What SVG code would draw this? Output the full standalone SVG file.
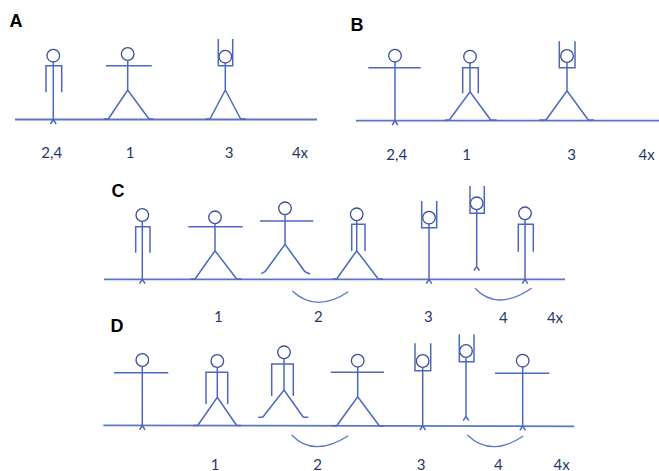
<svg xmlns="http://www.w3.org/2000/svg" width="659" height="471" viewBox="0 0 659 471">
  <style>
    .ln { fill: none; stroke: #4b68c0; stroke-width: 1.5; stroke-linecap: butt; stroke-linejoin: miter; }
    .gd { fill: none; stroke: #5a76c8; stroke-width: 1.8; }
    .hd { fill: #ffffff; stroke: #3b4f96; stroke-width: 1.3; }
    .arc { fill: none; stroke: #5a76c8; stroke-width: 1.3; }
    .lbl { font-family: Lato, "Liberation Sans", sans-serif; font-size: 15px; fill: #27366a; text-anchor: middle; }
    .ttl { font-family: "Liberation Sans", Arial, sans-serif; font-size: 18px; font-weight: bold; fill: #000000; }
  </style>
  <rect width="659" height="471" fill="#ffffff"/>

  <!-- Panel A -->
  <g id="panel-a">
    <text class="ttl" x="9.5" y="26.7">A</text>
    <path id="ground-a" class="gd" d="M15,119.5 H317"/>
    <g id="a-fig1">
      <circle class="hd" cx="53.3" cy="55.7" r="6.3"/>
      <path class="ln" d="M53.3,62 V119.5 M46,92.3 V65.7 H61.7 V92.3 M50.5,124 L53.3,119.5 L56.1,124"/>
    </g>
    <g id="a-fig2">
      <circle class="hd" cx="127.7" cy="54" r="6.3"/>
      <path class="ln" d="M106,65.7 H151.7 M127.7,60.3 V90 M108.3,119 L127.7,90 L149,119 M104,119 H108.3 M149,119 H153.3"/>
    </g>
    <g id="a-fig3">
      <circle class="hd" cx="225.3" cy="56.7" r="6.3"/>
      <path class="ln" d="M218.3,39 V65.7 H232.7 V39 M225.3,63 V90 M210,119 L225.3,90 L240.7,119 M205.7,119 H210 M240.7,119 H245.7"/>
    </g>
    <text class="lbl" x="51.7" y="158">2,4</text>
    <text class="lbl" x="130" y="158">1</text>
    <text class="lbl" x="229" y="158">3</text>
    <text class="lbl" x="300" y="158">4x</text>
  </g>

  <!-- Panel B -->
  <g id="panel-b">
    <text class="ttl" x="350.5" y="30.7">B</text>
    <path id="ground-b" class="gd" d="M356,120.7 H659"/>
    <g id="b-fig1">
      <circle class="hd" cx="395" cy="55.7" r="6.3"/>
      <path class="ln" d="M368.3,67.7 H420.7 M395,62 V120.7 M392.2,125 L395,120.7 L397.8,125"/>
    </g>
    <g id="b-fig2">
      <circle class="hd" cx="470" cy="56.7" r="6.3"/>
      <path class="ln" d="M462.7,93.3 V67.7 H478.3 V93.3 M470,63 V91.7 M449.3,120 L470,91.7 L490.7,120 M445,120 H449.3 M490.7,120 H496.7"/>
    </g>
    <g id="b-fig3">
      <circle class="hd" cx="567" cy="56" r="6.3"/>
      <path class="ln" d="M559.3,41.3 V67.7 H575 V41.3 M567,62.3 V90.7 M546,120 L567,90.7 L588.3,120 M539.3,120 H546 M588.3,120 H594"/>
    </g>
    <text class="lbl" x="396.7" y="160">2,4</text>
    <text class="lbl" x="466.7" y="160">1</text>
    <text class="lbl" x="571.7" y="160">3</text>
    <text class="lbl" x="646.7" y="160">4x</text>
  </g>

  <!-- Panel C -->
  <g id="panel-c">
    <text class="ttl" x="111.5" y="196.7">C</text>
    <path id="ground-c" class="gd" d="M104,279.3 H565"/>
    <g id="c-fig1">
      <circle class="hd" cx="142.3" cy="215" r="6.3"/>
      <path class="ln" d="M135.7,252.7 V226.7 H150 V252.7 M142.3,221.3 V279.3 M139.5,283.6 L142.3,279.3 L145.1,283.6"/>
    </g>
    <g id="c-fig2">
      <circle class="hd" cx="215" cy="217.3" r="6.3"/>
      <path class="ln" d="M188.3,226.7 H242.7 M215,223.6 V250.7 M195,279 L215,250.7 L236.7,279 M190.7,279 H195 M236.7,279 H241.7"/>
    </g>
    <g id="c-fig3">
      <circle class="hd" cx="285" cy="208.3" r="6.3"/>
      <path class="ln" d="M260,221 H313.3 M285,214.6 V244.3 M265,271.7 L285,244.3 L305,271.7 M261.3,273.6 L265,271.7 M305,271.7 L310,274"/>
    </g>
    <g id="c-fig4">
      <circle class="hd" cx="356.7" cy="214.3" r="6.3"/>
      <path class="ln" d="M351.7,251 V224.3 H365 V251 M356.7,220.6 V250.7 M336.7,279 L356.7,250.7 L378.3,279 M332.7,279 H336.7 M378.3,279 H383"/>
    </g>
    <g id="c-fig5">
      <circle class="hd" cx="429" cy="217.7" r="6.3"/>
      <path class="ln" d="M421.7,201 V227.7 H436.7 V201 M429,224 V279.3 M426.2,283.6 L429,279.3 L431.8,283.6"/>
    </g>
    <g id="c-fig6">
      <circle class="hd" cx="476.7" cy="203.3" r="6.3"/>
      <path class="ln" d="M470,186 V213.3 H484.3 V186 M476.7,209.6 V266.5 M473.9,270.5 L476.7,266.5 L479.5,270.5"/>
    </g>
    <g id="c-fig7">
      <circle class="hd" cx="525" cy="213.3" r="6.3"/>
      <path class="ln" d="M518.3,251.7 V224.3 H533.3 V251.7 M525,219.6 V279.3 M522.2,283.6 L525,279.3 L527.8,283.6"/>
    </g>
    <text class="lbl" x="218.3" y="322">1</text>
    <text class="lbl" x="318.3" y="322">2</text>
    <text class="lbl" x="428.3" y="322">3</text>
    <text class="lbl" x="503.3" y="323">4</text>
    <text class="lbl" x="555" y="322.5">4x</text>
  </g>

  <!-- Panel D -->
  <g id="panel-d">
    <text class="ttl" x="110.5" y="331.7">D</text>
    <path id="ground-d" class="gd" d="M103.3,425.3 L574.3,426.3"/>
    <g id="d-fig1">
      <circle class="hd" cx="142.3" cy="360" r="6.3"/>
      <path class="ln" d="M114,372.7 H168.3 M142.3,366.3 V425.5 M139.5,429.8 L142.3,425.5 L145.1,429.8"/>
    </g>
    <g id="d-fig2">
      <circle class="hd" cx="217.3" cy="361" r="6.3"/>
      <path class="ln" d="M206,404 V372.3 H227.7 V404 M217.3,367.3 V397.3 M197.7,425.5 L217.3,397.3 L236.7,425.5 M193.5,425.5 H197.7 M236.7,425.5 H241"/>
    </g>
    <g id="d-fig3">
      <circle class="hd" cx="284" cy="352.3" r="6.3"/>
      <path class="ln" d="M271.7,396 V364 H293.3 V396 M284,358.6 V390 M262.7,417.3 L284,390 L303.3,417.3 M258.3,417.3 H262.7 M303.3,417.3 H308.3"/>
    </g>
    <g id="d-fig4">
      <circle class="hd" cx="357.7" cy="360.7" r="6.3"/>
      <path class="ln" d="M330.7,372.3 H384 M357.7,367 V396.7 M336.7,425.7 L357.7,396.7 L379.3,425.7 M332.5,425.7 H336.7 M379.3,425.7 H384"/>
    </g>
    <g id="d-fig5">
      <circle class="hd" cx="422.7" cy="361" r="6.3"/>
      <path class="ln" d="M415,343.3 V370.7 H430.7 V343.3 M422.7,367.3 V425.8 M419.9,430 L422.7,425.8 L425.5,430"/>
    </g>
    <g id="d-fig6">
      <circle class="hd" cx="466" cy="351" r="6.3"/>
      <path class="ln" d="M459.3,334.3 V361.7 H474 V334.3 M466,357.3 V416.5 M463.2,420.5 L466,416.5 L468.8,420.5"/>
    </g>
    <g id="d-fig7">
      <circle class="hd" cx="522.7" cy="360.7" r="6.3"/>
      <path class="ln" d="M495,373.3 H549.3 M522.7,367 V426 M519.9,430.3 L522.7,426 L525.5,430.3"/>
    </g>
    <text class="lbl" x="215" y="469.5">1</text>
    <text class="lbl" x="317.7" y="469.5">2</text>
    <text class="lbl" x="421" y="469.5">3</text>
    <text class="lbl" x="498.3" y="469.5">4</text>
    <text class="lbl" x="561.7" y="469.5">4x</text>
  </g>

  <!-- arcs linking paired positions -->
  <g id="connectors">
    <path class="arc" d="M292.3,291 Q316.3,313.3 348.3,291.7"/>
    <path class="arc" d="M475,288.3 Q496.7,311.7 531.7,288.3"/>
    <path class="arc" d="M291.7,435 Q313.4,458 348.3,435.7"/>
    <path class="arc" d="M467.3,435 Q491.3,457.9 523.3,436"/>
  </g>
</svg>
